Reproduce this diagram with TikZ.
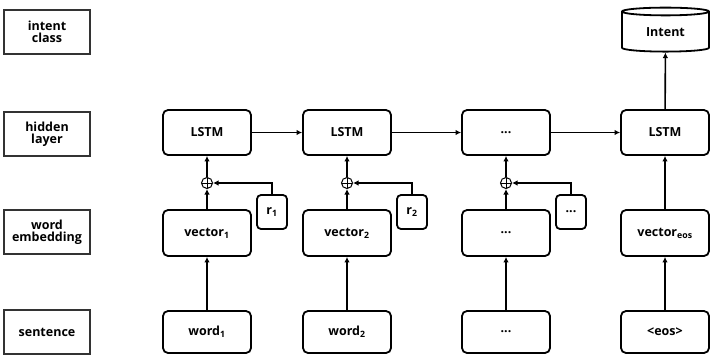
\documentclass[tikz,border=0pt]{standalone}
\usepackage{fontspec}
\setmainfont{Open Sans}
\usetikzlibrary{arrows.meta,shapes.geometric}
\newcommand\mydots{...}
\tikzset{
  lbl/.style={draw=black!80, line width=1.1pt, minimum width=86pt, minimum height=44pt, inner sep=0pt, align=center, font=\bfseries\fontsize{12.5}{13.5}\selectfont},
  box/.style={draw, line width=1.8pt, rounded corners=5pt, minimum width=88pt, minimum height=45pt, inner sep=0pt, font=\bfseries\fontsize{12.5}{14}\selectfont},
  rbox/.style={draw, line width=1.8pt, rounded corners=4pt, minimum width=30pt, minimum height=34pt, inner sep=0pt, font=\bfseries\fontsize{12.5}{14}\selectfont},
  plus/.style={draw, circle, line width=1pt, minimum size=11pt, inner sep=0pt,
    path picture={\draw[line width=0.8pt] (path picture bounding box.north) -- (path picture bounding box.south) (path picture bounding box.west) -- (path picture bounding box.east);}},
  arr/.style={line width=1.6pt, -{Latex[length=5.5pt,width=5.5pt]}},
}
\begin{document}
\begin{tikzpicture}[x=1pt,y=-1pt]
\useasboundingbox (0,0) rectangle (710,354);
% row labels
\node[lbl] (l1) at (47,32) {intent\\[-2pt]class};
\node[lbl] (l2) at (47,134) {hidden\\[-2pt]layer};
\node[lbl] (l3) at (47,232) {word\\[-2pt]embedding};
\node[lbl] (l4) at (47,332) {sentence};
% columns
\foreach \n/\x/\h/\v/\w in {1/207/LSTM/vector\textsubscript{1}/word\textsubscript{1},
                             2/347/LSTM/vector\textsubscript{2}/word\textsubscript{2},
                             3/506/\mydots/\mydots/\mydots,
                             4/665/LSTM/vector\textsubscript{eos}/<eos>}{
  \node[box] (h\n) at (\x,132.5) {\h};
  \node[box, minimum height=46pt] (v\n) at (\x,233) {\v};
  \node[box, minimum height=42pt] (w\n) at (\x,332) {\w};
  \draw[arr] (w\n) -- (v\n);
}
\foreach \n/\x/\r in {1/207/r\textsubscript{1}, 2/347/r\textsubscript{2}, 3/506/\mydots}{
  \node[plus] (p\n) at (\x,183) {};
  \node[rbox] (r\n) at (\x+65,212) {\r};
  \draw[arr] (v\n) -- (p\n);
  \draw[arr] (p\n) -- (h\n);
  \draw[arr] (r\n.north) |- (p\n.east);
}
\draw[arr] (v4) -- (h4);
\draw[arr] (h1) -- (h2);
\draw[arr] (h2) -- (h3);
\draw[arr] (h3) -- (h4);
% intent cylinder
\node[draw, cylinder, shape border rotate=90, aspect=0.2, line width=1.8pt, minimum width=87pt, minimum height=44pt, inner sep=0pt, font=\bfseries\fontsize{12.5}{14}\selectfont] (it) at (665.5,32) {Intent};
\draw[arr] (h4) -- (it);
\end{tikzpicture}
\end{document}
